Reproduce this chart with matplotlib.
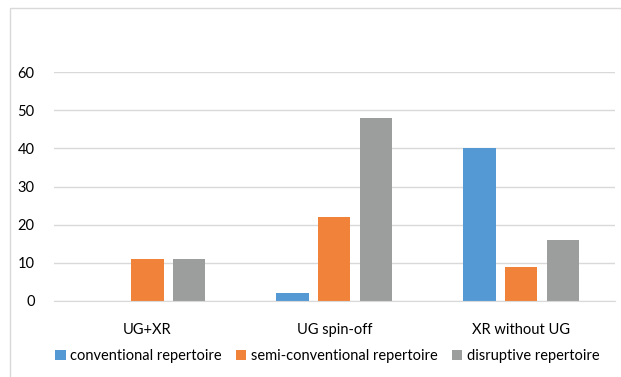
import numpy as np
import matplotlib.pyplot as plt
from matplotlib.patches import Rectangle

plt.rcParams['font.family'] = ['Lato', 'DejaVu Sans']

categories = ["UG+XR", "UG spin-off", "XR without UG"]
series_names = ["conventional repertoire", "semi-conventional repertoire", "disruptive repertoire"]
conventional = [0, 2, 40]
semi_conventional = [11, 22, 9]
disruptive = [11, 48, 16]
y_ticks = [0, 10, 20, 30, 40, 50, 60]

colors = ["#5499d4", "#f0823a", "#9c9e9e"]

fig = plt.figure(figsize=(6.21, 3.77), dpi=100)
ax = fig.add_axes([0.087, 0.2016, 0.903, 0.6074])

x = np.arange(len(categories))
width = 0.172
step = 0.224
for i, (vals, name) in enumerate(zip([conventional, semi_conventional, disruptive], series_names)):
    ax.bar(x + (i - 1) * step, vals, width, color=colors[i], label=name, zorder=3)

ax.set_xlim(-0.5, 2.5)
ax.set_ylim(0, 60)
ax.set_yticks(y_ticks)
ax.set_xticks(x)
ax.set_xticklabels(categories, fontsize=10.5)
ax.tick_params(axis='y', labelsize=10.5, length=0, pad=14)
ax.tick_params(axis='x', length=0, pad=16)
ax.grid(axis='y', color='#d9d9d9', linewidth=1, zorder=0)
for side in ['top', 'right', 'left']:
    ax.spines[side].set_visible(False)
ax.spines['bottom'].set_color('#d9d9d9')
ax.spines['bottom'].set_zorder(4)

fig.legend(loc='center', bbox_to_anchor=(0.527, 0.056), ncol=3, frameon=False,
           fontsize=10.5, handlelength=0.7, handleheight=0.7, handletextpad=0.3,
           columnspacing=1.0)

# light chart-area border
fig.patches.append(Rectangle((10 / 621, -0.1), 1.2, 1.1 - 8 / 377,
                             transform=fig.transFigure, fill=False,
                             edgecolor='#d9d9d9', linewidth=1))

fig.savefig("out.png", dpi=100)
